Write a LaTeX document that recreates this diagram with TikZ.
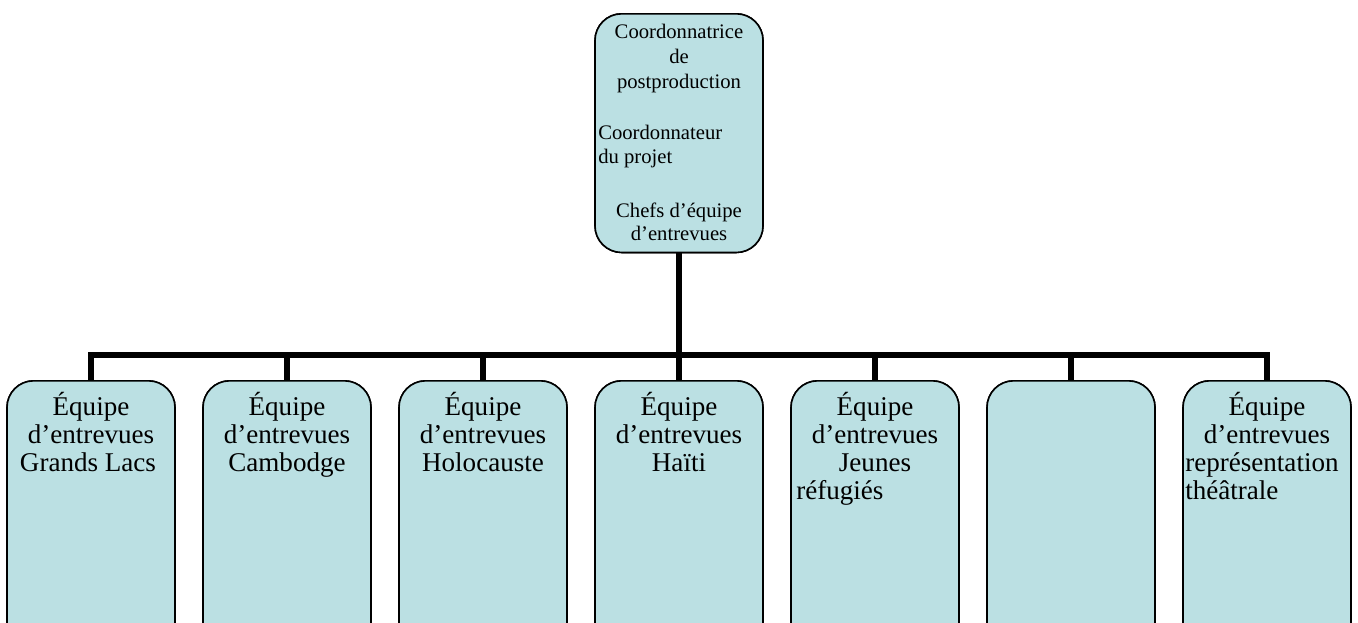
\documentclass[tikz,border=0pt]{standalone}
\usepackage{fontspec}
\setmainfont{Liberation Serif}
\definecolor{boxfill}{RGB}{187,224,227}
\tikzset{
  orgbox/.style={draw=black, line width=1.2pt, fill=boxfill, rounded corners=20pt,
    minimum width=126pt, inner sep=0pt, anchor=north},
  topbox/.style={orgbox, minimum height=179pt},
  teambox/.style={orgbox, minimum height=215pt},
  conn/.style={draw=black, line width=4.5pt},
  toptext/.style={font=\fontsize{15.5}{18}\selectfont, inner sep=0pt},
  teamtext/.style={font=\fontsize{20.3}{24}\selectfont, inner sep=0pt},
}
\begin{document}
\begin{tikzpicture}[x=0.75pt,y=-0.75pt]
\useasboundingbox (0,0) rectangle (1358,622);
\clip (0,0) rectangle (1358,622);
% top box
\node[topbox] (top) at (679,13) {};
% connectors
\coordinate (bar) at (679,355);
\foreach \i in {1,...,7}{
  \node[teambox] (b\i) at ({91+196*(\i-1)},380) {};
}
\foreach \i in {1,...,7}{
  \draw[conn] (top.south) -- (top.south |- bar) -| (b\i.north);
}
% redraw boxes above the stems' ends
\node[topbox] (top2) at (679,13) {};
\foreach \i in {1,...,7}{
  \node[teambox] (c\i) at ({91+196*(\i-1)},380) {};
}
% top texts
\node[toptext, anchor=base] (t1) at (679,38) {Coordonnatrice};
\node[toptext, anchor=base] (t2) at (679,63) {de};
\node[toptext, anchor=base] (t3) at (679,88) {postproduction};
\node[toptext, anchor=base west] (t4) at (598,139) {Coordonnateur};
\node[toptext, anchor=base west] (t5) at (598,163) {du projet};
\node[toptext, anchor=base] (t6) at (679,217) {Chefs d’équipe};
\node[toptext, anchor=base] (t7) at (679,240) {d’entrevues};
% team texts
\foreach \i in {1,2,3,4,5,7}{
  \node[teamtext, anchor=base] (e\i) at ({91+196*(\i-1)},415) {Équipe};
  \node[teamtext, anchor=base] (d\i) at ({91+196*(\i-1)},443) {d’entrevues};
}
\node[teamtext, anchor=base] (g1) at (88,471) {Grands Lacs};
\node[teamtext, anchor=base] (g2) at (287,471) {Cambodge};
\node[teamtext, anchor=base] (g3) at (483,471) {Holocauste};
\node[teamtext, anchor=base] (g4) at (679,471) {Haïti};
\node[teamtext, anchor=base] (g5) at (875,471) {Jeunes};
\node[teamtext, anchor=base west] (h5) at (796,499) {réfugiés};
\node[teamtext, anchor=base west] (g7) at (1185,471) {représentation};
\node[teamtext, anchor=base west] (h7) at (1185,499) {théâtrale};
\end{tikzpicture}
\end{document}
